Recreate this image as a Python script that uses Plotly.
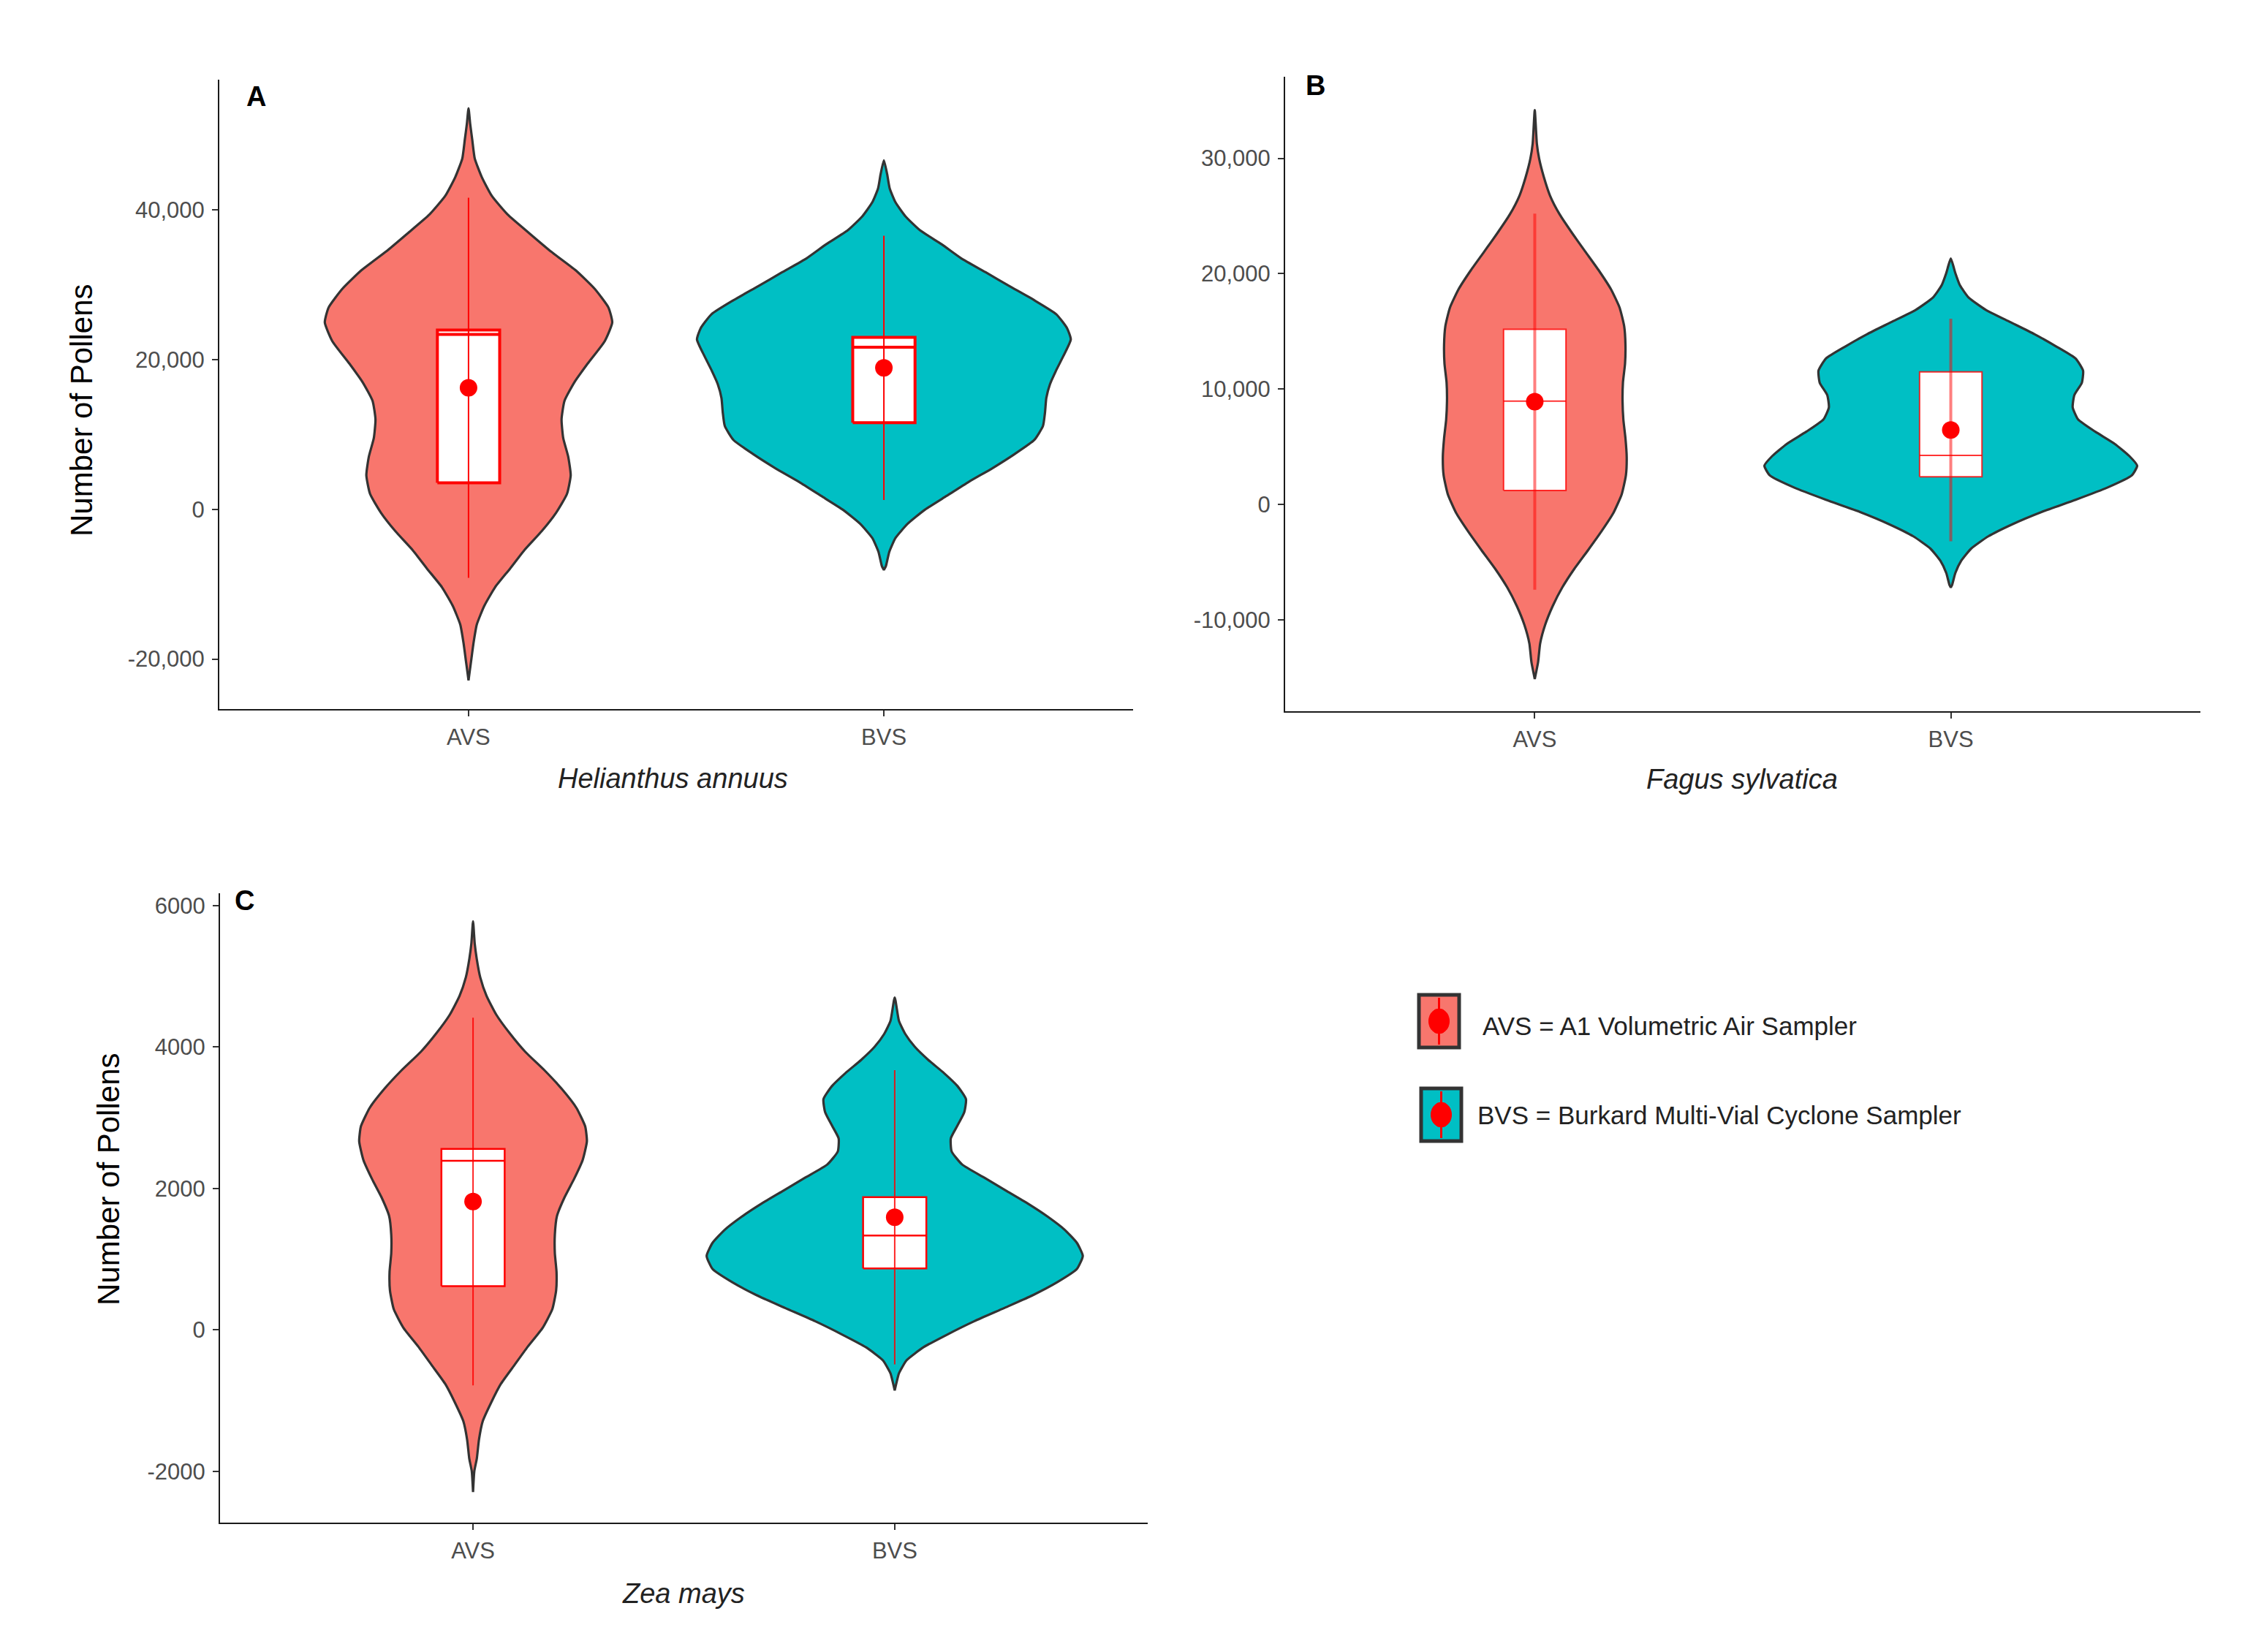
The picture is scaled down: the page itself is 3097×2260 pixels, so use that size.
import plotly.graph_objects as go

W, H = 3097, 2260
OFF = 8  # default body margin of the written page

CATS = ["AVS", "BVS"]
SALMON = "#F8766D"
TEAL = "#00BFC4"
BOX_W = 0.15

# violin outlines: y level and half-width (in category units)
A_AVS_Y = [53590, 51500, 49360, 46870, 44380, 41880, 39390, 36900, 34420, 31930, 29440, 26950,
           24960, 22470, 19480, 16990, 14490, 12010, 9520, 7030, 4540, 2050, -440, -2930, -5420,
           -7920, -10400, -12890, -15380, -17870, -20360, -22850]
A_AVS_W = [0, 0.004, 0.009, 0.015, 0.032, 0.056, 0.094, 0.146, 0.199, 0.258, 0.304, 0.337,
           0.346, 0.328, 0.287, 0.255, 0.231, 0.224, 0.228, 0.240, 0.246, 0.237, 0.211, 0.176,
           0.135, 0.100, 0.064, 0.038, 0.020, 0.012, 0.006, 0]

A_BVS_Y = [46620, 44740, 42880, 41010, 39140, 37280, 35410, 33540, 31670, 29800, 27940, 26070,
           24200, 22700, 20470, 18590, 16730, 14860, 12990, 11130, 9260, 7390, 5520, 3660, 1790,
           -80, -1940, -3820, -5680, -7550, -8110]
A_BVS_W = [0, 0.008, 0.014, 0.028, 0.052, 0.087, 0.139, 0.186, 0.245, 0.303, 0.362, 0.415,
           0.441, 0.450, 0.432, 0.415, 0.400, 0.391, 0.388, 0.383, 0.362, 0.315, 0.262, 0.204,
           0.151, 0.098, 0.057, 0.028, 0.013, 0.005, 0]

B_AVS_Y = [34180, 31280, 29980, 28360, 26740, 25130, 23510, 21890, 20280, 18660, 17050, 15430,
           13810, 12200, 10580, 8960, 7340, 5730, 4110, 2500, 880, -740, -2350, -3970, -5590,
           -7210, -8820, -10440, -12050, -13670, -15130]
B_AVS_W = [0, 0.005, 0.0105, 0.022, 0.037, 0.060, 0.090, 0.122, 0.154, 0.183, 0.204, 0.215,
           0.218, 0.217, 0.212, 0.211, 0.213, 0.218, 0.221, 0.219, 0.209, 0.189, 0.160, 0.128,
           0.095, 0.066, 0.043, 0.025, 0.013, 0.008, 0]

B_BVS_Y = [21310, 20040, 18990, 17930, 16870, 15820, 14760, 13700, 12650, 11590, 10540, 9480,
           8420, 7370, 6310, 5250, 4200, 3350, 2510, 1450, 400, -660, -1720, -2770, -3830,
           -4890, -5940, -7000, -7210]
B_BVS_W = [0, 0.011, 0.022, 0.043, 0.084, 0.142, 0.201, 0.253, 0.300, 0.318, 0.315, 0.297,
           0.293, 0.306, 0.347, 0.394, 0.429, 0.448, 0.435, 0.376, 0.300, 0.218, 0.148, 0.090,
           0.049, 0.025, 0.011, 0.003, 0]

C_AVS_Y = [5779, 5462, 5251, 4988, 4724, 4459, 4195, 3932, 3668, 3404, 3141, 2877, 2666, 2402,
           2139, 1874, 1610, 1346, 1083, 819, 555, 292, 28, -236, -499, -764, -1028, -1292,
           -1555, -1819, -2000, -2294]
C_AVS_W = [0, 0.004, 0.0087, 0.017, 0.032, 0.055, 0.087, 0.124, 0.170, 0.211, 0.245, 0.266,
           0.270, 0.260, 0.240, 0.217, 0.199, 0.194, 0.194, 0.198, 0.197, 0.188, 0.165, 0.130,
           0.098, 0.066, 0.043, 0.023, 0.014, 0.009, 0.003, 0]

C_BVS_Y = [4702, 4370, 4185, 4001, 3816, 3631, 3447, 3262, 3078, 2892, 2708, 2523, 2338, 2154,
           1969, 1785, 1600, 1416, 1231, 1046, 861, 676, 492, 307, 123, -62, -247, -431, -616,
           -727, -856]
C_BVS_W = [0, 0.010, 0.025, 0.048, 0.080, 0.117, 0.149, 0.169, 0.165, 0.149, 0.133, 0.135,
           0.160, 0.212, 0.264, 0.316, 0.363, 0.403, 0.432, 0.446, 0.432, 0.386, 0.328, 0.259,
           0.189, 0.126, 0.068, 0.028, 0.010, 0.005, 0]

# box stats per panel, order AVS, BVS
A_Q1, A_MED, A_Q3 = [3540, 11580], [23370, 21660], [23960, 22970]
A_MEAN, A_ERR = [16240, 18900], [25400, 17650]
B_Q1, B_MED, B_Q3 = [1200, 2400], [8960, 4240], [15170, 11490]
B_MEAN, B_ERR = [8900, 6450], [16300, 9650]
C_Q1, C_MED, C_Q3 = [618, 869], [2391, 1334], [2560, 1877]
C_MEAN, C_ERR = [1815, 1593], [2600, 2080]

A_TICKS = [-20000, 0, 20000, 40000]
A_TICKTEXT = ["-20,000", "0", "20,000", "40,000"]
B_TICKS = [-10000, 0, 10000, 20000, 30000]
B_TICKTEXT = ["-10,000", "0", "10,000", "20,000", "30,000"]
C_TICKS = [-2000, 0, 2000, 4000, 6000]
C_TICKTEXT = ["-2000", "0", "2000", "4000", "6000"]

SANS = "Liberation Sans, Arial, sans-serif"


def px(x):
    return (x - OFF) / (W - OFF)


def py(y):
    return 1 - (y - OFF) / (H - OFF)


panels = [
    # axis suffix, violins, box stats, y range, ticks, x domain px, y domain px, box line, whisker
    ("", [(A_AVS_Y, A_AVS_W), (A_BVS_Y, A_BVS_W)], (A_Q1, A_MED, A_Q3, A_MEAN, A_ERR),
     [-26680, 57400], (A_TICKS, A_TICKTEXT), (300, 1550), (109, 970), (4, "red"), (2, "red")),
    ("2", [(B_AVS_Y, B_AVS_W), (B_BVS_Y, B_BVS_W)], (B_Q1, B_MED, B_Q3, B_MEAN, B_ERR),
     [-17930, 37070], (B_TICKS, B_TICKTEXT), (1758, 3010), (105, 973), (2, "rgba(255,0,0,0.8)"),
     (4, "rgba(255,0,0,0.5)")),
    ("3", [(C_AVS_Y, C_AVS_W), (C_BVS_Y, C_BVS_W)], (C_Q1, C_MED, C_Q3, C_MEAN, C_ERR),
     [-2726, 6175], (C_TICKS, C_TICKTEXT), (301, 1570), (1222, 2083), (2.5, "red"),
     (2, "rgba(255,0,0,0.85)")),
]

fig = go.Figure()
layout = {}

for suf, violins, stats, yrange, ticks, xdom, ydom, boxline, whisk in panels:
    xa, ya = "x" + suf, "y" + suf
    for i, (ys, ws) in enumerate(violins):
        pos = i + 1
        xs = [pos + w for w in ws] + [pos - w for w in reversed(ws)]
        fig.add_trace(go.Scatter(
            x=xs, y=list(ys) + list(ys)[::-1], mode="lines", fill="toself",
            fillcolor=SALMON if i == 0 else TEAL,
            line=dict(color="#333333", width=3.2, shape="spline", smoothing=0.5),
            xaxis=xa, yaxis=ya, hoverinfo="skip", showlegend=False))
    q1, med, q3, mean, err = stats
    for i in range(2):
        pos = i + 1
        lo, hi = pos - BOX_W / 2, pos + BOX_W / 2
        # box (white rectangle q1..q3) and median
        fig.add_trace(go.Scatter(
            x=[lo, hi, hi, lo, lo], y=[q1[i], q1[i], q3[i], q3[i], q1[i]], mode="lines",
            fill="toself", fillcolor="white",
            line=dict(color=boxline[1], width=boxline[0]),
            xaxis=xa, yaxis=ya, hoverinfo="skip", showlegend=False))
        fig.add_trace(go.Scatter(
            x=[lo, hi], y=[med[i], med[i]], mode="lines",
            line=dict(color=boxline[1], width=boxline[0]),
            xaxis=xa, yaxis=ya, hoverinfo="skip", showlegend=False))
    fig.add_trace(go.Scatter(
        x=[1, 2], y=mean, mode="markers",
        marker=dict(color="red", size=24),
        error_y=dict(type="data", array=err, symmetric=True, color=whisk[1],
                     thickness=whisk[0], width=0),
        xaxis=xa, yaxis=ya, showlegend=False))

    axis_common = dict(showline=True, linecolor="#1a1a1a", linewidth=2, ticks="outside",
                       ticklen=8, tickwidth=2, tickcolor="#333333", showgrid=False,
                       zeroline=False, tickfont=dict(family=SANS, size=31, color="#4D4D4D"))
    layout["xaxis" + suf] = dict(axis_common, domain=[px(xdom[0]), px(xdom[1])],
                                 range=[0.4, 2.6], tickvals=[1, 2], ticktext=CATS,
                                 anchor=ya, ticklabelstandoff=2)
    layout["yaxis" + suf] = dict(axis_common, domain=[py(ydom[1]), py(ydom[0])],
                                 range=yrange, tickvals=ticks[0], ticktext=ticks[1],
                                 anchor=xa, ticklabelstandoff=4)

annotations = []


def note(text, x, y, size, angle=0, xanchor="center", color="#000000"):
    annotations.append(dict(text=text, x=px(x), y=py(y), xref="paper", yref="paper",
                            showarrow=False, textangle=angle, xanchor=xanchor,
                            yanchor="middle", font=dict(family=SANS, size=size, color=color)))


# panel letters
note("<b>A</b>", 350, 132, 38)
note("<b>B</b>", 1799, 117, 38)
note("<b>C</b>", 334, 1232, 38)
# axis titles
note("Number of Pollens", 111, 561, 42, angle=-90)
note("Number of Pollens", 148, 1613, 42, angle=-90)
note("<i>Helianthus annuus</i>", 920, 1065, 38, color="#222222")
note("<i>Fagus sylvatica</i>", 2383, 1066, 38, color="#222222")
note("<i>Zea mays</i>", 935, 2180, 38, color="#222222")
# legend text
note("AVS = A1 Volumetric Air Sampler", 2026, 1403, 35, xanchor="left", color="#222222")
note("BVS = Burkard Multi-Vial Cyclone Sampler", 2019, 1525, 35, xanchor="left",
     color="#222222")

# legend keys
shapes = []
for (x0, y0, x1, y1), col in [((1941, 1361, 1996, 1433), SALMON),
                              ((1944, 1489, 1999, 1561), TEAL)]:
    cx, cy = (x0 + x1) / 2, (y0 + y1) / 2
    shapes.append(dict(type="rect", xref="paper", yref="paper", x0=px(x0), x1=px(x1),
                       y0=py(y1), y1=py(y0), fillcolor=col,
                       line=dict(color="#333333", width=5)))
    shapes.append(dict(type="line", xref="paper", yref="paper", x0=px(cx), x1=px(cx),
                       y0=py(y1 - 4), y1=py(y0 + 4), line=dict(color="red", width=3)))
    shapes.append(dict(type="circle", xref="paper", yref="paper", x0=px(cx - 14),
                       x1=px(cx + 14), y0=py(cy + 17), y1=py(cy - 17), fillcolor="red",
                       line=dict(color="red", width=1)))

fig.update_layout(
    width=W - OFF, height=H - OFF, autosize=False,
    margin=dict(l=0, r=0, t=0, b=0),
    paper_bgcolor="white", plot_bgcolor="white",
    showlegend=False,
    annotations=annotations, shapes=shapes,
    **layout,
)

fig.write_html("out.html")
